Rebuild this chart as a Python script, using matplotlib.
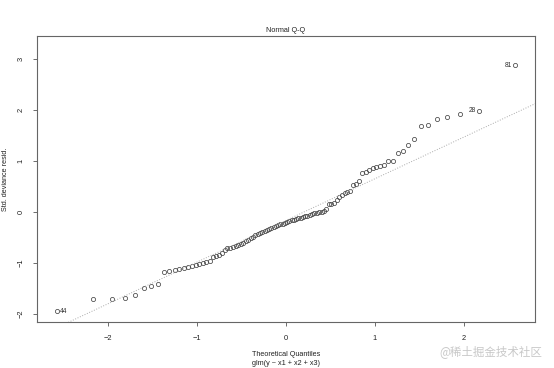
from statistics import NormalDist
import numpy as np
import matplotlib.pyplot as plt

# standardized deviance residuals, sorted
resid = np.array([
    -1.95, -1.70, -1.70, -1.68, -1.63, -1.50, -1.46, -1.42, -1.17, -1.15,
    -1.13, -1.12, -1.10, -1.08, -1.06, -1.04, -1.02, -1.00, -0.98, -0.96,
    -0.89, -0.87, -0.84, -0.80, -0.74, -0.71, -0.70, -0.69, -0.67, -0.65,
    -0.63, -0.61, -0.58, -0.55, -0.52, -0.49, -0.46, -0.44, -0.42, -0.40,
    -0.38, -0.35, -0.33, -0.31, -0.29, -0.27, -0.26, -0.24, -0.23, -0.22,
    -0.19, -0.18, -0.16, -0.15, -0.14, -0.12, -0.11, -0.10, -0.09, -0.08,
    -0.06, -0.04, -0.03, -0.02, -0.01, 0.00, 0.02, 0.06, 0.15, 0.16,
    0.17, 0.24, 0.30, 0.34, 0.38, 0.40, 0.42, 0.52, 0.55, 0.60,
    0.76, 0.79, 0.82, 0.86, 0.88, 0.91, 0.93, 0.99, 1.00, 1.16,
    1.20, 1.31, 1.44, 1.69, 1.71, 1.82, 1.87, 1.92, 1.98, 2.88,
])
labelled = {0: '44', 98: '28', 99: '81'}

title = 'Normal Q-Q'
xlab = 'Theoretical Quantiles\nglm(y ~ x1 + x2 + x3)'
ylab = 'Std. deviance resid.'

n = len(resid)
nd = NormalDist()
theo = np.array([nd.inv_cdf((i + 0.5) / n) for i in range(n)])

plt.rcParams['font.family'] = ['Liberation Sans', 'DejaVu Sans']
fig = plt.figure(figsize=(5.54, 3.68), dpi=100)
ax = fig.add_axes([0.0668, 0.125, 0.899, 0.777])

ax.plot(theo, resid, 'o', mfc='none', mec='#444444', ms=3.0, mew=0.55)

# qqline through the quartiles
y1, y2 = np.quantile(resid, [0.25, 0.75])
x1, x2 = nd.inv_cdf(0.25), nd.inv_cdf(0.75)
slope = (y2 - y1) / (x2 - x1)
icpt = y1 - slope * x1
xx = np.array([-3, 3])
ax.plot(xx, icpt + slope * xx, ':', color='#aaaaaa', lw=0.7)

for i, lab in labelled.items():
    if theo[i] < 0:
        ax.annotate(lab, (theo[i], resid[i]), xytext=(2, 0), textcoords='offset points',
                    ha='left', va='center', fontsize=4.8, color='#333333')
    else:
        ax.annotate(lab, (theo[i], resid[i]), xytext=(-2, 0), textcoords='offset points',
                    ha='right', va='center', fontsize=4.8, color='#333333')

ax.set_xlim(-2.80, 2.80)
ax.set_ylim(-2.16, 3.45)
ax.set_xticks([-2, -1, 0, 1, 2])
ax.set_yticks([-2, -1, 0, 1, 2, 3])
ax.tick_params(labelsize=5.4, length=3, width=0.6, color='#555555', labelcolor='#222222', pad=6)
for lab in ax.get_yticklabels():
    lab.set_rotation(90)
    lab.set_va('center')
for s in ax.spines.values():
    s.set_color('#666666')
    s.set_linewidth(0.8)

ax.set_title(title, fontsize=5.2, pad=3, color='#222222')
ax.set_xlabel(xlab, fontsize=5.2, labelpad=7, color='#222222', linespacing=1.3)
ax.set_ylabel(ylab, fontsize=5.2, labelpad=6, color='#222222')

fig.text(0.978, 0.046, '@稀土掘金技术社区', family=['Noto Sans CJK SC', 'DejaVu Sans'],
         fontsize=8.3, color='#c8c8c8', ha='right', va='center')

fig.savefig('out.png', dpi=100)
